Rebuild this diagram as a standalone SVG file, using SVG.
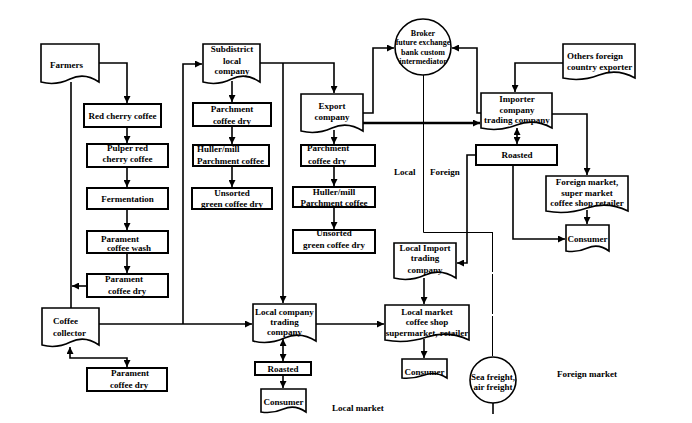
<svg xmlns="http://www.w3.org/2000/svg" width="692" height="423" viewBox="0 0 692 423">
<style>
text{font-family:"Liberation Serif","Times New Roman",serif;font-weight:bold;font-size:9px;fill:#000}
.c{text-anchor:middle}
.s{font-size:8px}
.box{fill:#fff;stroke:#000;stroke-width:2}
.doc{fill:#fff;stroke:#000;stroke-width:1.6}
.circ{fill:#fff;stroke:#000;stroke-width:1.6}
.ln{fill:none;stroke:#000;stroke-width:1.6}
.thk{fill:none;stroke:#000;stroke-width:2.4}
.thin{fill:none;stroke:#000;stroke-width:1}
.ar{marker-end:url(#a)}
.ab{marker-start:url(#a);marker-end:url(#a)}
</style>
<defs>
<marker id="a" viewBox="0 0 8 8" refX="8" refY="4" markerWidth="7" markerHeight="7" orient="auto-start-reverse" markerUnits="userSpaceOnUse"><path d="M0,0 L8,4 L0,8 Z" fill="#000"/></marker>
</defs>
<rect width="692" height="423" fill="#fff"/>

<g id="connectors">
<path class="ln ar" d="M99,63 H127 V103"/>
<path class="ln ar" d="M127,127 V143"/>
<path class="ln ar" d="M127,167 V187"/>
<path class="ln ar" d="M127,209 V230"/>
<path class="ln ar" d="M127,253 V273"/>
<path class="ln ar" d="M87,286 H72"/>
<path class="ln" d="M71,82 V308"/>
<path class="ln ab" d="M70,347 V358 H127 V367"/>
<path class="ln ar" d="M99,324 H252"/>
<path class="ln ar" d="M183,324 V64 H202"/>
<path class="ln ar" d="M232,81 V102"/>
<path class="ln ar" d="M232,126 V144"/>
<path class="ln ar" d="M232,166 V187"/>
<path class="ln ar" d="M260,63 H334 V93"/>
<path class="ln ar" d="M283,63 V303"/>
<path class="ln ar" d="M334,130 V144"/>
<path class="ln ar" d="M334,166 V186"/>
<path class="ln ar" d="M334,207 V229"/>
<path class="ln ar" d="M363,113 H373 V48 H394"/>
<path class="thk ar" d="M363,123 H480"/>
<path class="ln ar" d="M481,113 H477 V48 H452"/>
<path class="ln ar" d="M563,63 H515 V92"/>
<path class="ln ab" d="M517,128 V144"/>
<path class="ln ar" d="M552,114 H587 V175"/>
<path class="ln ar" d="M476,155 H467 V263 H457"/>
<path class="ln ar" d="M513,165 V239 H565"/>
<path class="ln ar" d="M587,210 V224"/>
<path class="thin" d="M423.5,75 V232.5 H492.5"/>
<path class="thin" d="M492.5,232 V357" stroke-dasharray="40 2"/>
<path class="ln" d="M493,403 V414"/>
<path class="ln ar" d="M424,278 V304"/>
<path class="ln ar" d="M316,324 H384"/>
<path class="ln ar" d="M424,339 V358"/>
<path class="ln ab" d="M283,339 V361"/>
<path class="ln ar" d="M283,375 V388"/>
</g>

<g id="farmers"><path class="doc" d="M41,44 H99 V82 Q84.5,72 70,79 T41,82 Z"/><text x="50" y="68">Farmers</text></g>
<g id="red-cherry"><rect class="box" x="84" y="104" width="77" height="23"/><text class="c" x="122.5" y="119">Red cherry coffee</text></g>
<g id="pulper"><rect class="box" x="87" y="144" width="81" height="23"/><text class="c" x="127.5" y="151">Pulper red</text><text class="c" x="127.5" y="162">cherry coffee</text></g>
<g id="fermentation"><rect class="box" x="87" y="188" width="81" height="21"/><text class="c" x="127.5" y="202">Fermentation</text></g>
<g id="parament-wash"><rect class="box" x="87" y="231" width="81" height="22"/><text x="101" y="242">Parament</text><text class="c" x="129" y="251">coffee wash</text></g>
<g id="parament-dry1"><rect class="box" x="87" y="274" width="81" height="23"/><text x="105" y="282">Parament</text><text x="108" y="294">coffee dry</text></g>
<g id="collector"><path class="doc" d="M42,308 H99 V345 Q84.75,335 70.5,342 T42,345 Z"/><text x="53" y="324">Coffee</text><text x="53" y="336">collector</text></g>
<g id="parament-dry2"><rect class="box" x="87" y="368" width="80" height="23"/><text x="111" y="376">Parament</text><text x="110" y="388">coffee dry</text></g>

<g id="subdistrict"><path class="doc" d="M203,44 H260 V82 Q245.75,72 231.5,79 T203,82 Z"/><text class="c" x="232" y="52">Subdistrict</text><text class="c" x="232" y="63.5">local</text><text class="c" x="232" y="74">company</text></g>
<g id="parchment-dry1"><rect class="box" x="193" y="103" width="78" height="23"/><text class="c" x="232" y="112">Parchment</text><text class="c" x="232" y="124">coffee dry</text></g>
<g id="huller1"><rect class="box" x="193" y="145" width="76" height="21"/><text x="197" y="152">Huller/mill</text><text x="197" y="164">Parchment coffee</text></g>
<g id="unsorted1"><rect class="box" x="192" y="188" width="80" height="21"/><text class="c" x="232" y="196">Unsorted</text><text class="c" x="232" y="207">green coffee dry</text></g>

<g id="export"><path class="doc" d="M301,94 H363 V131 Q347.5,121 332,128 T301,131 Z"/><text class="c" x="332" y="109">Export</text><text class="c" x="332" y="120">company</text></g>
<g id="parchment-dry2"><rect class="box" x="301" y="145" width="74" height="21"/><text x="307" y="151">Parchment</text><text x="308" y="164">coffee dry</text></g>
<g id="huller2"><rect class="box" x="293" y="187" width="82" height="20"/><text class="c" x="334" y="195">Huller/mill</text><text class="c" x="334" y="206">Parchment coffee</text></g>
<g id="unsorted2"><rect class="box" x="293" y="230" width="82" height="23"/><text class="c" x="334" y="236">Unsorted</text><text class="c" x="334" y="248">green coffee dry</text></g>

<g id="broker"><ellipse class="circ" cx="423" cy="47" rx="28" ry="28"/><text class="c s" x="423" y="36">Broker</text><text class="c s" x="423" y="45">future exchange</text><text class="c s" x="423" y="55">bank custom</text><text class="c s" x="423" y="64">intermediator</text></g>
<g id="importer"><path class="doc" d="M481,93 H552 V128 Q534.25,118 516.5,125 T481,128 Z"/><text class="c" x="517" y="102">Importer</text><text class="c" x="517" y="113">company</text><text class="c" x="517" y="123">trading company</text></g>
<g id="others"><path class="doc" d="M563,44 H635 V78 Q617,68 599,75 T563,78 Z"/><text x="567" y="59">Others foreign</text><text x="567" y="70">country exporter</text></g>
<g id="roasted-f"><rect class="box" x="476" y="145" width="81" height="20"/><text class="c" x="517" y="158">Roasted</text></g>
<g id="foreign-market"><path class="doc" d="M546,176 H628 V211 Q607.5,201 587,208 T546,211 Z"/><text class="c" x="587" y="185">Foreign market,</text><text class="c" x="587" y="196">super market</text><text class="c" x="587" y="206">coffee shop retailer</text></g>
<g id="consumer-f"><path class="doc" d="M566,225 H609 V251 Q598.25,243 587.5,248 T566,251 Z"/><text class="c" x="587.5" y="242">Consumer</text></g>

<g id="local-import"><path class="doc" d="M394,243 H456 V278 Q440.5,268 425,275 T394,278 Z"/><text class="c" x="425" y="251">Local Import</text><text class="c" x="425" y="261">trading</text><text class="c" x="425" y="273">company</text></g>
<g id="local-market"><path class="doc" d="M385,305 H469 V340 Q448,330 427,337 T385,340 Z"/><text class="c" x="427" y="315">Local market</text><text class="c" x="427" y="325">coffee shop</text><text class="c" x="427" y="336">supermarket, retailer</text></g>
<g id="consumer-lm"><path class="doc" d="M402,359 H447 V378 Q435.75,371 424.5,375 T402,378 Z"/><text class="c" x="424.5" y="375">Consumer</text></g>
<g id="local-trading"><path class="doc" d="M253,304 H316 V341 Q300.25,331 284.5,338 T253,341 Z"/><text class="c" x="284.5" y="315">Local company</text><text class="c" x="284.5" y="325">trading</text><text class="c" x="284.5" y="335">company</text></g>
<g id="roasted-l"><rect class="box" x="255" y="362" width="56" height="13"/><text class="c" x="283" y="372">Roasted</text></g>
<g id="consumer-l"><path class="doc" d="M261,389 H306 V412 Q294.75,404 283.5,409 T261,412 Z"/><text class="c" x="283.5" y="405">Consumer</text></g>
<g id="sea-freight"><circle class="circ" cx="493" cy="380" r="23"/><text class="c" x="493" y="380">Sea freight,</text><text class="c" x="493" y="390">air freight</text></g>

<g id="labels">
<text x="332" y="411">Local market</text>
<text x="557" y="377">Foreign market</text>
<text x="394" y="175">Local</text>
<text x="430" y="175">Foreign</text>
</g>
</svg>
